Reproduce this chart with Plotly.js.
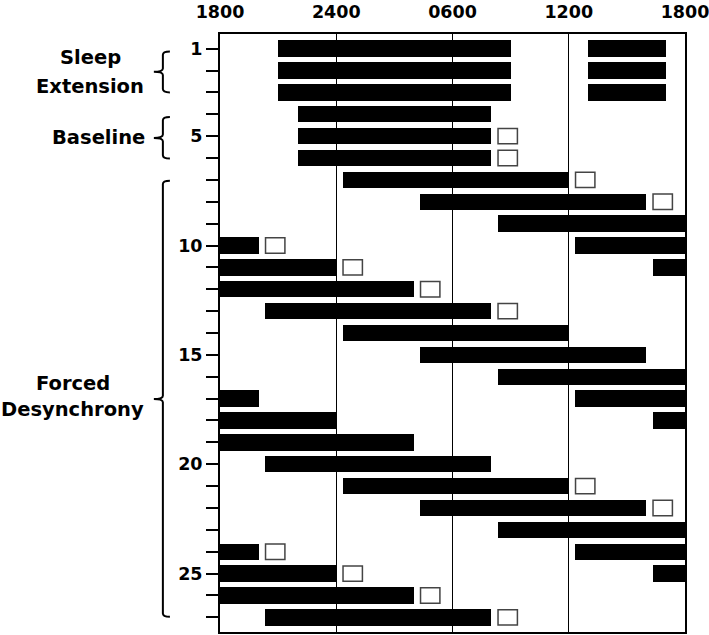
<!DOCTYPE html>
<html>
<head>
<meta charset="utf-8">
<script src="https://cdn.plot.ly/plotly-3.0.1.min.js"></script>
<style>html,body{margin:0;padding:0;background:#fff;}#chart{width:709px;height:635px;}</style>
</head>
<body>
<div id="chart"></div>
<script>
// Hours after 18:00 (0 = 1800, 6 = 2400, 12 = 0600, 18 = 1200, 24 = 1800)
var sleepDay   = [1, 1, 2, 2, 3, 3, 4, 5, 6, 7, 8, 9, 10, 10, 11, 11, 12, 13, 14, 15, 16, 17, 17, 18, 18, 19, 20, 21, 22, 23, 24, 24, 25, 25, 26, 27];
var sleepStart = [3, 19, 3, 19, 3, 19, 4, 4, 4, 6.33, 10.33, 14.33, 0, 18.33, 0, 22.33, 0, 2.33, 6.33, 10.33, 14.33, 0, 18.33, 0, 22.33, 0, 2.33, 6.33, 10.33, 14.33, 0, 18.33, 0, 22.33, 0, 2.33];
var sleepEnd   = [15, 23, 15, 23, 15, 23, 14, 14, 14, 18, 22, 24, 2, 24, 6, 24, 10, 14, 18, 22, 24, 2, 24, 6, 24, 10, 14, 18, 22, 24, 2, 24, 6, 24, 10, 14];

var boxDay   = [5, 6, 7, 8, 10, 11, 12, 13, 21, 22, 24, 25, 26, 27];
var boxStart = [14.35, 14.35, 18.35, 22.35, 2.35, 6.35, 10.35, 14.35, 18.35, 22.35, 2.35, 6.35, 10.35, 14.35];

var xTickVals = [0, 6, 12, 18, 24];
var xTickText = ['1800', '2400', '0600', '1200', '1800'];
var dayTicks = [];
for (var d = 1; d <= 27; d++) dayTicks.push(d);
var dayLabelVals = [1, 5, 10, 15, 20, 25];

var groups = [
  {lines: ['Sleep', 'Extension'], lineY: [1.39, 2.71], cx: 90.5, top: 1.13, bot: 3.0, mid: 2.06},
  {lines: ['Baseline'], lineY: [5.08], cx: 98.5, top: 4.12, bot: 6.02, mid: 5.08},
  {lines: ['Forced', 'Desynchrony'], lineY: [16.33, 17.5], cx: 73, top: 7.04, bot: 26.97, mid: 17.02}
];

var FONT = 'DejaVu Sans';
var L = 220, W = 464;
function px2paper(p) { return (p - L) / W; }

var dur = sleepEnd.map(function (e, i) { return e - sleepStart[i]; });
var boxLen = boxStart.map(function () { return 1.0; });

var traces = [
  {type: 'bar', orientation: 'h', y: sleepDay, x: dur, base: sleepStart, width: 0.75,
   marker: {color: '#000', line: {width: 0}}, hoverinfo: 'skip', showlegend: false},
  {type: 'bar', orientation: 'h', y: boxDay, x: boxLen, base: boxStart, width: 0.7,
   marker: {color: '#fff', line: {color: '#444', width: 1.5}}, hoverinfo: 'skip', showlegend: false}
];

var annotations = [];
var shapes = [];
groups.forEach(function (g) {
  g.lines.forEach(function (t, i) {
    annotations.push({text: '<b>' + t + '</b>', xref: 'paper', yref: 'y', x: px2paper(g.cx), y: g.lineY[i],
      xanchor: 'center', yanchor: 'middle', showarrow: false,
      font: {family: FONT, size: 19.5, color: '#000'}});
  });
  var xv = px2paper(163), xh = px2paper(170), xn = px2paper(154);
  var r = 0.15;
  var p = 'M' + xh + ',' + g.top +
          ' Q' + xv + ',' + g.top + ' ' + xv + ',' + (g.top + r) +
          ' L' + xv + ',' + (g.mid - r) +
          ' Q' + xv + ',' + g.mid + ' ' + xn + ',' + g.mid +
          ' Q' + xv + ',' + g.mid + ' ' + xv + ',' + (g.mid + r) +
          ' L' + xv + ',' + (g.bot - r) +
          ' Q' + xv + ',' + g.bot + ' ' + xh + ',' + g.bot;
  shapes.push({type: 'path', xref: 'paper', yref: 'y', path: p, line: {color: '#000', width: 2}});
});

var layout = {
  width: 709, height: 635,
  margin: {l: 220, r: 24, t: 34, b: 3, pad: 0},
  paper_bgcolor: '#fff', plot_bgcolor: '#fff',
  barmode: 'overlay',
  bargap: 0,
  font: {family: FONT, size: 17, color: '#000'},
  xaxis: {range: [0, 24], side: 'top', tickvals: xTickVals,
    ticktext: xTickText.map(function (t) { return '<b>' + t + '</b>'; }), ticks: '',
    showgrid: true, gridcolor: '#000', gridwidth: 1, zeroline: false,
    showline: true, mirror: true, linecolor: '#000', linewidth: 2,
    ticklabelstandoff: 7, ticklabeloverflow: 'allow',
    tickfont: {family: FONT, size: 17.5, color: '#000'}, fixedrange: true},
  yaxis: {range: [27.67, 0.33], tickvals: dayTicks,
    ticktext: dayTicks.map(function (d) { return dayLabelVals.indexOf(d) >= 0 ? '<b>' + d + '</b>' : ''; }),
    ticks: 'outside', ticklen: 12, tickwidth: 2, tickcolor: '#000',
    showgrid: false, zeroline: false, showline: true, mirror: true, linecolor: '#000', linewidth: 2,
    tickfont: {family: FONT, size: 17.5, color: '#000'}, fixedrange: true},
  annotations: annotations,
  shapes: shapes
};

Plotly.newPlot('chart', traces, layout, {displayModeBar: false, staticPlot: true});
</script>
</body>
</html>
